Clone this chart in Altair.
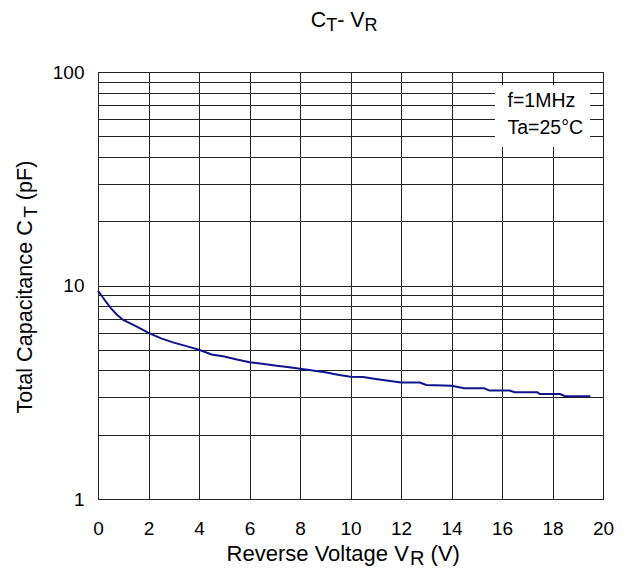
import altair as alt
import pandas as pd

# ---- data ----
voltage = [0, 0.25, 0.5, 0.75, 1.0, 1.5, 2.0, 2.5, 3.0, 3.5, 4.0, 4.5, 5.0, 5.5,
           6.0, 6.5, 7.0, 7.5, 8.0, 8.5, 9.0, 9.5, 10.0, 10.5, 11.0, 11.5, 12.0,
           12.75, 13.0, 14.0, 14.5, 15.3, 15.5, 16.3, 16.5, 17.4, 17.5, 18.3,
           18.5, 19.5]
capacitance = [9.45, 8.6, 7.85, 7.3, 6.9, 6.45, 6.0, 5.65, 5.4, 5.2, 5.0, 4.75,
               4.65, 4.5, 4.37, 4.3, 4.22, 4.15, 4.07, 4.0, 3.92, 3.82, 3.74,
               3.73, 3.65, 3.58, 3.51, 3.51, 3.42, 3.39, 3.3, 3.3, 3.22, 3.22,
               3.16, 3.16, 3.1, 3.1, 3.03, 3.03]
x_ticks = list(range(0, 21, 2))
y_grid = [1, 2, 3, 4, 5, 6, 7, 8, 9, 10, 20, 30, 40, 50, 60, 70, 80, 90, 100]
y_labels = [1, 10, 100]
note_lines = ["f=1MHz", "Ta=25°C"]

df = pd.DataFrame({"V": voltage, "C": capacitance})

FONT = "Liberation Sans"
PLOT_W, PLOT_H = 505, 427

# Arial / Liberation Sans advance widths (1/1000 em)
W = {' ': 278, '(': 333, ')': 333, '-': 333, '=': 584, '°': 400,
     'A': 667, 'C': 722, 'F': 611, 'H': 722, 'M': 833, 'R': 722, 'T': 611,
     'V': 667, 'a': 556, 'c': 500, 'e': 556, 'f': 278, 'g': 556, 'i': 222,
     'l': 222, 'n': 556, 'o': 556, 'p': 556, 'r': 333, 's': 500, 't': 278,
     'v': 500, 'z': 500}
for d in "0123456789":
    W[d] = 556


def tw(s, size):
    return sum(W.get(ch, 556) for ch in s) / 1000 * size


def one_row():
    return alt.Data(values=[{"k": 0}])


def seg_layers(segments, x0, y0, angle=0):
    """segments: (text, fontSize, baseline shift) placed one after the other."""
    layers = []
    pos = 0.0
    for text, size, shift in segments:
        lead = len(text) - len(text.lstrip(' '))
        pos += tw(text[:lead], size)
        t = text.strip()
        if angle == 0:
            x, y = x0 + pos, y0 + shift
        else:
            x, y = x0 + shift, y0 - pos
        mk = dict(text=t, font=FONT, fontSize=size, align="left",
                  baseline="alphabetic", color="black")
        if angle:
            mk["angle"] = angle
        layers.append(alt.Chart(one_row()).mark_text(**mk).encode(
            x=alt.value(x), y=alt.value(y)))
        pos += tw(t, size)
    return layers


label_expr = ("indexof([" + ",".join(str(v) for v in y_labels) +
              "], datum.value) >= 0 ? format(datum.value, 'd') : ''")

common_axis = dict(grid=True, ticks=False, domain=False, labelFont=FONT,
                   labelFontSize=19, labelColor="black", title=None,
                   gridColor="#222222", gridWidth=1, gridOpacity=1,
                   labelOverlap=False, labelFlush=False)

line = alt.Chart(df).mark_line(color="#12128c", strokeWidth=2).encode(
    x=alt.X("V:Q", scale=alt.Scale(domain=[0, 20], nice=False, zero=False),
            axis=alt.Axis(values=x_ticks, labelPadding=35,
                          labelBaseline="alphabetic", **common_axis)),
    y=alt.Y("C:Q", scale=alt.Scale(type="log", domain=[1, 100], nice=False),
            axis=alt.Axis(values=y_grid, labelExpr=label_expr,
                          labelPadding=14, labelBound=False, **common_axis)),
)

box = alt.Chart(one_row()).mark_rect(color="white", opacity=1).encode(
    x=alt.value(397), x2=alt.value(492), y=alt.value(13), y2=alt.value(75))

notes = [alt.Chart(one_row()).mark_text(
    text=t, font=FONT, fontSize=19.5, align="left", baseline="alphabetic",
    color="black").encode(x=alt.value(409.5), y=alt.value(yy))
    for t, yy in zip(note_lines, [34.7, 62.0])]

title = seg_layers([("C", 21.4, 0), ("T", 18, 4.5), ("- V", 21.4, 0),
                    ("R", 18, 4.5)], 212.7, -45.5)
xtitle = seg_layers([("Reverse Voltage V", 22, 0), ("R", 20, 4.3),
                     (" (V)", 22, 0)], 128.6, 488.7)
ytitle = seg_layers([("Total Capacitance C", 21.6, 0), ("T", 19, 4.2),
                     (" (pF)", 21.6, 0)], -65.7, 341.5, angle=270)

chart = alt.layer(line, box, *notes, *title, *xtitle, *ytitle).properties(
    width=PLOT_W, height=PLOT_H,
    autosize=alt.AutoSizeParams(type="none"),
    padding={"left": 90, "top": 64, "right": 20, "bottom": 70},
    background="white",
).configure_view(stroke="black", strokeWidth=1)

chart.save("out.html", embed_options={"renderer": "svg", "actions": False})
